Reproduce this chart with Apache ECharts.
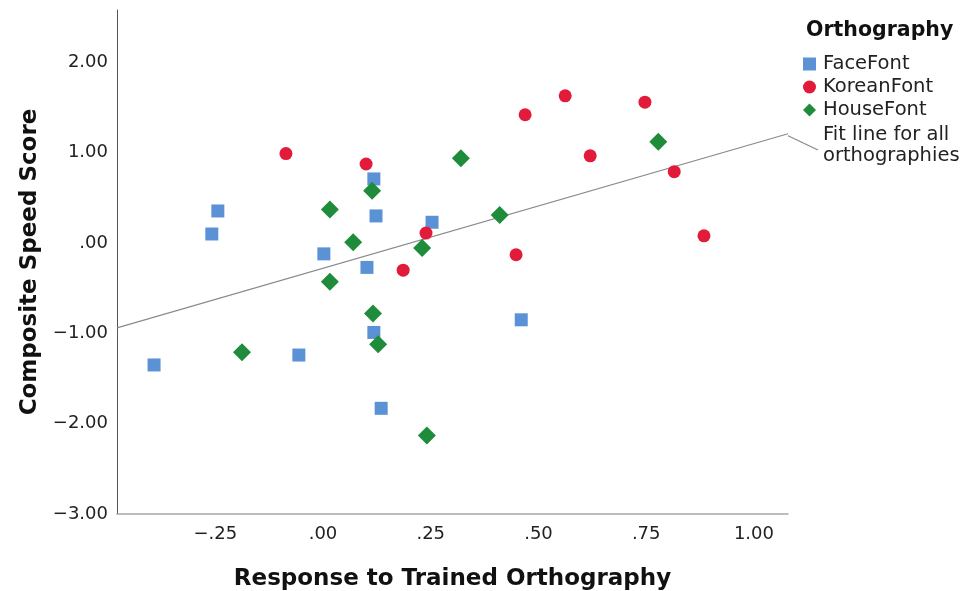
<!DOCTYPE html>
<html>
<head>
<meta charset="utf-8">
<script src="https://cdn.jsdelivr.net/npm/echarts@6/dist/echarts.min.js"></script>
<style>
    html, body { margin: 0; padding: 0; background: #fff; }
    #main { width: 966px; height: 591px; }
</style>
</head>
<body>
<div id="main"></div>
<script>
// 各组数据 [x, y]
const faceFont = [
    [-0.244, 0.355], [-0.258, 0.10], [0.118, 0.71], [0.123, 0.30],
    [0.253, 0.23], [0.002, -0.12], [0.102, -0.27], [0.118, -0.99],
    [0.460, -0.85], [-0.392, -1.35], [-0.056, -1.24], [0.135, -1.83]
];
const koreanFont = [
    [-0.086, 0.99], [0.100, 0.875], [0.469, 1.42], [0.562, 1.63],
    [0.620, 0.965], [0.239, 0.11], [0.186, -0.30], [0.448, -0.13],
    [0.747, 1.56], [0.815, 0.79], [0.884, 0.08]
];
const houseFont = [
    [0.320, 0.94], [0.114, 0.58], [0.016, 0.37], [0.070, 0.01],
    [0.410, 0.31], [0.230, -0.055], [0.016, -0.43], [0.778, 1.12],
    [-0.188, -1.21], [0.116, -0.78], [0.128, -1.12], [0.241, -2.13]
];

// 拟合线（全部正字法）
const fitLine = [[-0.478, -0.94], [1.079, 1.21]];

// 刻度
const xTicks = [-0.25, 0, 0.25, 0.5, 0.75, 1];
const yTicks = [-3, -2, -1, 0, 1, 2];
const xRange = [-0.478, 1.079];
const yRange = [-3, 2.58];

const colors = {
    face: '#5b92d6',
    korean: '#e31b3b',
    house: '#1e8c3a'
};

// SPSS 风格的数字：.25 / -.25 / 1.00
function fmt(v) {
    let s = Math.abs(v).toFixed(2);
    if (s.startsWith('0')) s = s.slice(1);
    return (v < 0 ? '\u2212' : '') + s;
}

const font = '"DejaVu Sans", sans-serif';

const chartDom = document.getElementById('main');
const myChart = echarts.init(chartDom);

const option = {
    backgroundColor: '#fff',
    animation: false,
    textStyle: { fontFamily: font },
    grid: { left: 117, top: 10, right: 178, bottom: 77, outerBoundsMode: 'none' },
    xAxis: {
        type: 'value',
        min: xRange[0],
        max: xRange[1],
        name: 'Response to Trained Orthography',
        nameLocation: 'middle',
        nameGap: 54,
        nameTextStyle: { fontSize: 23, fontWeight: 'bold', color: '#111', fontFamily: font },
        axisLine: { show: true, onZero: false, lineStyle: { color: '#a8a8a8', width: 1.5 } },
        axisTick: { show: false },
        splitLine: { show: false },
        axisLabel: {
            customValues: xTicks,
            formatter: fmt,
            fontSize: 18,
            color: '#222',
            margin: 11
        }
    },
    yAxis: {
        type: 'value',
        min: yRange[0],
        max: yRange[1],
        name: 'Composite Speed Score',
        nameLocation: 'middle',
        nameRotate: 90,
        nameGap: 75,
        nameTextStyle: { fontSize: 23, fontWeight: 'bold', color: '#111', fontFamily: font },
        axisLine: { show: true, onZero: false, lineStyle: { color: '#555', width: 1 } },
        axisTick: { show: false },
        splitLine: { show: false },
        axisLabel: {
            customValues: yTicks,
            formatter: fmt,
            fontSize: 18,
            color: '#222',
            margin: 9,
            padding: [4, 0, 0, 0]
        }
    },
    legend: {
        orient: 'vertical',
        left: 798,
        top: 49,
        itemWidth: 13,
        itemHeight: 13,
        itemGap: 3,
        textStyle: { fontSize: 19.5, color: '#222', fontFamily: font, padding: [0, 0, 0, 2] },
        data: [
            { name: 'FaceFont', icon: 'rect' },
            { name: 'KoreanFont', icon: 'circle' },
            { name: 'HouseFont', icon: 'diamond' }
        ]
    },
    series: [
        {
            name: 'Fit line',
            type: 'line',
            data: fitLine,
            showSymbol: false,
            silent: true,
            lineStyle: { color: '#8a8a8a', width: 1.2 },
            z: 1
        },
        {
            name: 'FaceFont',
            type: 'scatter',
            symbol: 'rect',
            symbolSize: 13,
            data: faceFont,
            itemStyle: { color: colors.face, opacity: 1 }
        },
        {
            name: 'KoreanFont',
            type: 'scatter',
            symbol: 'circle',
            symbolSize: 13,
            data: koreanFont,
            itemStyle: { color: colors.korean, opacity: 1 }
        },
        {
            name: 'HouseFont',
            type: 'scatter',
            symbol: 'diamond',
            symbolSize: 18,
            data: houseFont,
            itemStyle: { color: colors.house, opacity: 1 }
        }
    ]
};

myChart.setOption(option);

// 图例标题、拟合线说明和引线
const end = myChart.convertToPixel({ gridIndex: 0 }, fitLine[1]);
myChart.setOption({
    graphic: [
        {
            type: 'text',
            left: 806,
            top: 20,
            style: { text: 'Orthography', font: 'bold 20.5px ' + font, fill: '#111' }
        },
        {
            type: 'text',
            left: 823,
            top: 124,
            style: { text: 'Fit line for all\northographies', font: '19.5px ' + font, fill: '#222', lineHeight: 21 }
        },
        {
            type: 'line',
            shape: { x1: end[0], y1: end[1] + 2, x2: 818, y2: 150 },
            style: { stroke: '#8a8a8a', lineWidth: 1.2 }
        }
    ]
});
</script>
</body>
</html>
